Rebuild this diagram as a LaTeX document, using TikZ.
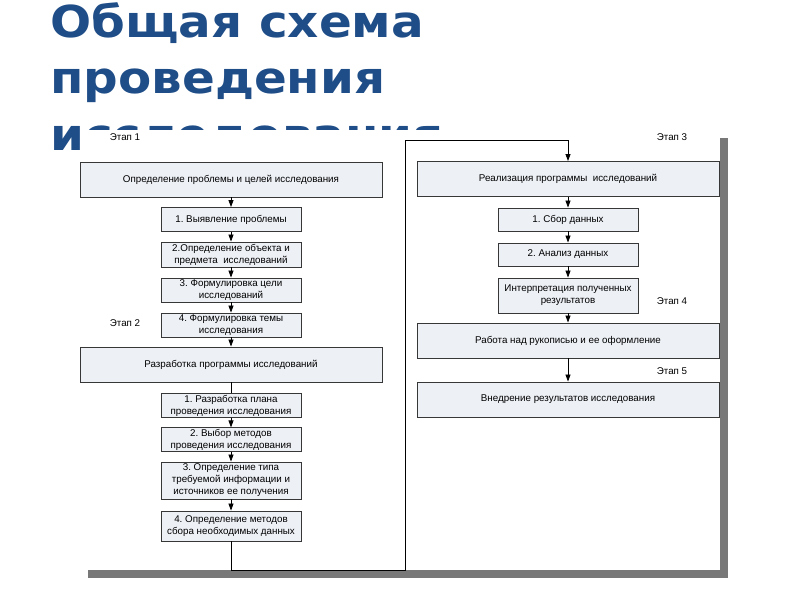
\documentclass[tikz,border=0pt]{standalone}
\usepackage{fontspec}
\setmainfont{Liberation Sans}
\newfontfamily\titlefont{DejaVu Sans}[FakeStretch=1.1]
\usetikzlibrary{arrows.meta}
\definecolor{titleblue}{RGB}{31,77,135}
\definecolor{boxfill}{RGB}{237,240,245}
\definecolor{boxline}{RGB}{55,55,55}
\definecolor{shadowgray}{RGB}{120,120,120}
\frenchspacing

\begin{document}
\begin{tikzpicture}[x=1pt, y=-1pt,
    font=\fontsize{9.8}{12}\selectfont,
    >={Triangle[width=5pt,length=7pt]},
    bigbox/.style={draw=boxline, line width=0.9pt, fill=boxfill, minimum width=302pt, minimum height=35pt, inner sep=1pt, align=center},
    smallbox/.style={draw=boxline, line width=0.9pt, fill=boxfill, minimum width=140pt, minimum height=24pt, inner sep=1pt, align=center},
    stage/.style={inner sep=0pt},
    heading/.style={font=\titlefont\bfseries\fontsize{44}{44}\selectfont, text=titleblue, anchor=base west, inner sep=0pt}]
    \useasboundingbox (0,0) rectangle (800,600);

    % title of the slide
    \node[heading] (t1) at (50,37) {Общая схема};
    \node[heading] (t2) at (50,93) {проведения};
    \node[heading] (t3) at (50,150) {исследования};

    % pasted scheme with its shadow
    \fill[shadowgray] (88,138) rectangle (728,578);
    \fill[white] (80,130) rectangle (720,570);

    % stage 1 and 2
    \node[stage] (s1) at (125,137) {Этап 1};
    \node[bigbox] (prob) at (231,179.5) {Определение проблемы и целей исследования};
    \node[smallbox] (p1) at (231,219.5) {1. Выявление проблемы};
    \node[smallbox, minimum height=25pt] (p2) at (231,254.5) {2.Определение объекта и\\предмета\ \ исследований};
    \node[smallbox] (p3) at (231,290) {3. Формулировка цели\\исследований};
    \node[smallbox] (p4) at (231,325) {4. Формулировка темы\\исследования};
    \node[stage] (s2) at (125,323) {Этап 2};

    \node[bigbox] (prog) at (231,364.5) {Разработка программы исследований};
    \node[smallbox, minimum height=23pt] (r1) at (231,405.5) {1. Разработка плана\\проведения исследования};
    \node[smallbox, minimum height=23pt] (r2) at (231,439.5) {2. Выбор методов\\проведения исследования};
    \node[smallbox, minimum height=37pt] (r3) at (231,480.5) {3. Определение типа\\требуемой информации и\\источников ее получения};
    \node[smallbox, minimum height=30pt] (r4) at (231,526) {4. Определение методов\\сбора необходимых данных};

    % stage 3, 4 and 5
    \node[stage] (s3) at (672,137) {Этап 3};
    \node[bigbox] (real) at (568,179) {Реализация программы\ \ исследований};
    \node[smallbox, minimum height=23pt] (d1) at (568,219.5) {1. Сбор данных};
    \node[smallbox, minimum height=23pt] (d2) at (568,254.5) {2. Анализ данных};
    \node[smallbox, minimum height=35pt] (d3) at (568,295.5) {Интерпретация полученных\\результатов};
    \node[stage] (s4) at (672,301) {Этап 4};
    \node[bigbox] (ruk) at (568,340.5) {Работа над рукописью и ее оформление};
    \node[stage] (s5) at (672,371) {Этап 5};
    \node[bigbox] (vned) at (568,399.5) {Внедрение результатов исследования};

    \coordinate (bend1) at (405,570);
    \coordinate (bend2) at (405,140);

    \begin{scope}[line width=0.8pt, draw=black]
        \draw[->] (prob) -- (p1);
        \draw[->] (p1) -- (p2);
        \draw[->] (p2) -- (p3);
        \draw[->] (p3) -- (p4);
        \draw[->] (p4) -- (prog);
        \draw (prog) -- (r1);
        \draw[->] (r1) -- (r2);
        \draw[->] (r2) -- (r3);
        \draw[->] (r3) -- (r4);
        \draw[->] (r4.south) |- (bend1) -- (bend2) -| (real.north);

        \draw[->] (real) -- (d1);
        \draw[->] (d1) -- (d2);
        \draw[->] (d2) -- (d3);
        \draw[->] (d3) -- (ruk);
        \draw[->] (ruk) -- (vned);
    \end{scope}
\end{tikzpicture}
\end{document}
